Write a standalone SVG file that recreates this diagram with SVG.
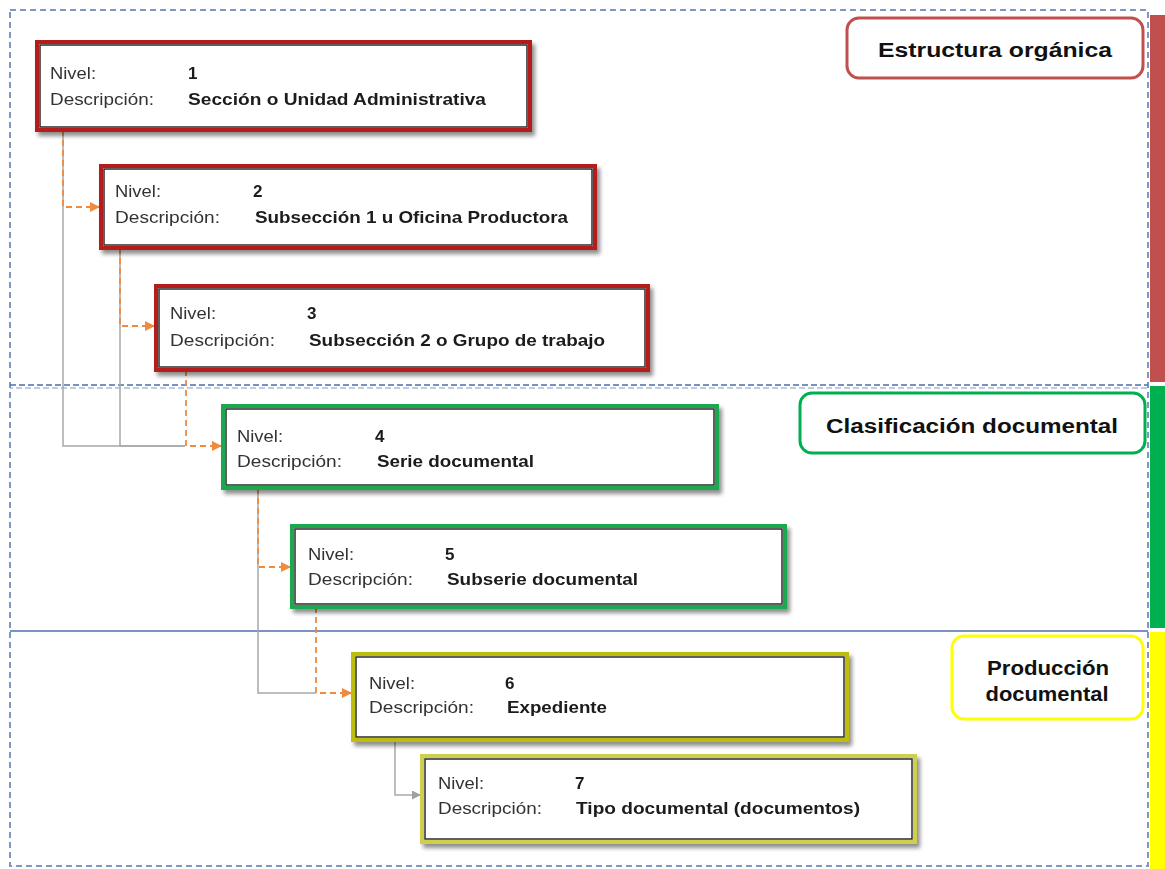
<svg xmlns="http://www.w3.org/2000/svg" width="1165" height="869" viewBox="0 0 1165 869">
<defs>
<filter id="sh" x="-5%" y="-10%" width="115%" height="130%">
<feGaussianBlur in="SourceAlpha" stdDeviation="2"/>
<feOffset dx="3" dy="4"/>
<feComponentTransfer><feFuncA type="linear" slope="0.45"/></feComponentTransfer>
<feMerge><feMergeNode/><feMergeNode in="SourceGraphic"/></feMerge>
</filter>
<marker id="ao" viewBox="0 0 10 10" refX="10" refY="5" markerWidth="10" markerHeight="10" markerUnits="userSpaceOnUse" orient="auto">
<path d="M0,0 L10,5 L0,10 Z" fill="#F08A3C"/>
</marker>
<marker id="ag" viewBox="0 0 10 10" refX="10" refY="5" markerWidth="9" markerHeight="9" markerUnits="userSpaceOnUse" orient="auto">
<path d="M0,0 L10,5 L0,10 Z" fill="#A0A0A0"/>
</marker>
</defs>
<style>
.lbl{font-family:"Liberation Sans",Arial,sans-serif;font-size:17px;fill:#333}
.val{font-family:"Liberation Sans",Arial,sans-serif;font-size:17px;font-weight:bold;fill:#1a1a1a}
.ttl{font-family:"Liberation Sans",Arial,sans-serif;font-size:20px;font-weight:bold;fill:#111}
.bx{fill:#fff}
.inner{fill:none;stroke:#2a2a2a;stroke-width:1.5}
.red{stroke:#B51C1C;stroke-width:4}
.grn{stroke:#1FA84F;stroke-width:4}
.yel6{stroke:#BDBD10;stroke-width:4}
.yel7{stroke:#CFCF50;stroke-width:4}
.gray{fill:none;stroke:#A8A8A8;stroke-width:1.5}
.org{fill:none;stroke:#F08A3C;stroke-width:1.8;stroke-dasharray:6 4}
</style>
<rect width="1165" height="869" fill="#fff"/>

<g id="frame">
<rect x="10" y="10" width="1138" height="856" fill="none" stroke="#7F97C2" stroke-width="2" stroke-dasharray="6 4"/>
<line x1="10" y1="385" x2="1148" y2="385" stroke="#4A6FB0" stroke-width="1.5" stroke-dasharray="6 3"/>
<line x1="10" y1="388" x2="1148" y2="388" stroke="#7F97C2" stroke-width="1.2" stroke-dasharray="6 3" stroke-dashoffset="3"/>
<line x1="10" y1="631" x2="1148" y2="631" stroke="#4F6FA8" stroke-width="1.5"/>
<rect x="1150" y="15" width="15" height="367" fill="#C0504D"/>
<rect x="1150" y="386" width="15" height="242" fill="#00B050"/>
<rect x="1150" y="632" width="15" height="237" fill="#FFFF00"/>
</g>

<g id="connectors">
<polyline class="gray" points="63,130 63,446 185,446"/>
<polyline class="gray" points="120,248 120,446 185,446"/>
<polyline class="org" points="63,130 63,207 100,207" marker-end="url(#ao)"/>
<polyline class="org" points="120,248 120,326 155,326" marker-end="url(#ao)"/>
<polyline class="org" points="186,370 186,446 222,446" marker-end="url(#ao)"/>
<polyline class="gray" points="258,488 258,693 316,693"/>
<polyline class="org" points="258,488 258,567 291,567" marker-end="url(#ao)"/>
<polyline class="org" points="316,607 316,693 352,693" marker-end="url(#ao)"/>
<polyline class="gray" points="395,740 395,795 421,795" marker-end="url(#ag)"/>
</g>

<g id="n1" filter="url(#sh)">
<rect class="bx red" x="37" y="42" width="493" height="88"/>
<rect class="inner" x="40" y="45" width="487" height="82"/>
<text class="lbl" x="50" y="79" textLength="46" lengthAdjust="spacingAndGlyphs">Nivel:</text>
<text class="val" x="188" y="79">1</text>
<text class="lbl" x="50" y="105" textLength="104" lengthAdjust="spacingAndGlyphs">Descripción:</text>
<text class="val" x="188" y="105" textLength="298" lengthAdjust="spacingAndGlyphs">Sección o Unidad Administrativa</text>
</g>

<g id="n2" filter="url(#sh)">
<rect class="bx red" x="101" y="166" width="494" height="82"/>
<rect class="inner" x="104" y="169" width="488" height="76"/>
<text class="lbl" x="115" y="197" textLength="46" lengthAdjust="spacingAndGlyphs">Nivel:</text>
<text class="val" x="253" y="197">2</text>
<text class="lbl" x="115" y="223" textLength="105" lengthAdjust="spacingAndGlyphs">Descripción:</text>
<text class="val" x="255" y="223" textLength="313" lengthAdjust="spacingAndGlyphs">Subsección 1 u Oficina Productora</text>
</g>

<g id="n3" filter="url(#sh)">
<rect class="bx red" x="156" y="286" width="492" height="84"/>
<rect class="inner" x="159" y="289" width="486" height="78"/>
<text class="lbl" x="170" y="319" textLength="46" lengthAdjust="spacingAndGlyphs">Nivel:</text>
<text class="val" x="307" y="319">3</text>
<text class="lbl" x="170" y="346" textLength="105" lengthAdjust="spacingAndGlyphs">Descripción:</text>
<text class="val" x="309" y="346" textLength="296" lengthAdjust="spacingAndGlyphs">Subsección 2 o Grupo de trabajo</text>
</g>

<g id="n4" filter="url(#sh)">
<rect class="bx grn" x="223" y="406" width="494" height="82"/>
<rect class="inner" x="226" y="409" width="488" height="76"/>
<text class="lbl" x="237" y="442" textLength="46" lengthAdjust="spacingAndGlyphs">Nivel:</text>
<text class="val" x="375" y="442">4</text>
<text class="lbl" x="237" y="467" textLength="105" lengthAdjust="spacingAndGlyphs">Descripción:</text>
<text class="val" x="377" y="467" textLength="157" lengthAdjust="spacingAndGlyphs">Serie documental</text>
</g>

<g id="n5" filter="url(#sh)">
<rect class="bx grn" x="292" y="526" width="493" height="81"/>
<rect class="inner" x="295" y="529" width="487" height="75"/>
<text class="lbl" x="308" y="560" textLength="46" lengthAdjust="spacingAndGlyphs">Nivel:</text>
<text class="val" x="445" y="560">5</text>
<text class="lbl" x="308" y="585" textLength="105" lengthAdjust="spacingAndGlyphs">Descripción:</text>
<text class="val" x="447" y="585" textLength="191" lengthAdjust="spacingAndGlyphs">Subserie documental</text>
</g>

<g id="n6" filter="url(#sh)">
<rect class="bx yel6" x="353" y="654" width="494" height="86"/>
<rect class="inner" x="356" y="657" width="488" height="80"/>
<text class="lbl" x="369" y="689" textLength="46" lengthAdjust="spacingAndGlyphs">Nivel:</text>
<text class="val" x="505" y="689">6</text>
<text class="lbl" x="369" y="713" textLength="105" lengthAdjust="spacingAndGlyphs">Descripción:</text>
<text class="val" x="507" y="713" textLength="100" lengthAdjust="spacingAndGlyphs">Expediente</text>
</g>

<g id="n7" filter="url(#sh)">
<rect class="bx yel7" x="422" y="756" width="493" height="86"/>
<rect class="inner" x="425" y="759" width="487" height="80"/>
<text class="lbl" x="438" y="789" textLength="46" lengthAdjust="spacingAndGlyphs">Nivel:</text>
<text class="val" x="575" y="789">7</text>
<text class="lbl" x="438" y="814" textLength="104" lengthAdjust="spacingAndGlyphs">Descripción:</text>
<text class="val" x="576" y="814" textLength="284" lengthAdjust="spacingAndGlyphs">Tipo documental (documentos)</text>
</g>

<g id="t1">
<rect x="847" y="18" width="296" height="60" rx="12" fill="#fff" stroke="#C0504D" stroke-width="3"/>
<text class="ttl" x="995" y="57" text-anchor="middle" textLength="234" lengthAdjust="spacingAndGlyphs">Estructura orgánica</text>
</g>
<g id="t2">
<rect x="800" y="393" width="345" height="60" rx="12" fill="#fff" stroke="#00B050" stroke-width="3"/>
<text class="ttl" x="972" y="433" text-anchor="middle" textLength="292" lengthAdjust="spacingAndGlyphs">Clasificación documental</text>
</g>
<g id="t3">
<rect x="952" y="636" width="191" height="83" rx="12" fill="#fff" stroke="#FFFF00" stroke-width="3"/>
<text class="ttl" x="1048" y="675" text-anchor="middle" font-size="19" textLength="122" lengthAdjust="spacingAndGlyphs">Producción</text>
<text class="ttl" x="1047" y="701" text-anchor="middle" font-size="19" textLength="123" lengthAdjust="spacingAndGlyphs">documental</text>
</g>
</svg>
